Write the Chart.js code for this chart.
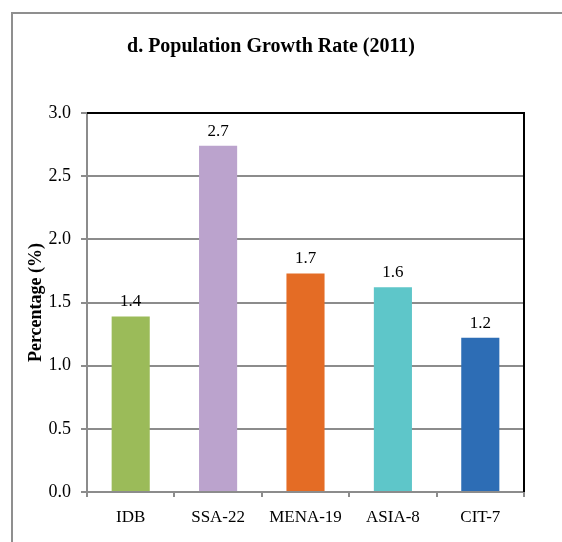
<!DOCTYPE html>
<html>
<head>
<meta charset="utf-8">
<script src="https://cdn.jsdelivr.net/npm/chart.js@4/dist/chart.umd.min.js"></script>
<style>
  html, body { margin: 0; padding: 0; background: #fff; }
  #wrap { width: 562px; height: 542px; }
</style>
</head>
<body>
<div id="wrap"><canvas id="chart-growth"></canvas></div>
<script>
// Dados
const regioes = ['IDB', 'SSA-22', 'MENA-19', 'ASIA-8', 'CIT-7'];
const taxaCrescimento = [1.39, 2.74, 1.73, 1.62, 1.22];
const coresBarras = ['#9BBB59', '#BBA3CD', '#E46C25', '#5EC6C9', '#2D6DB5'];
const ticksY = [0, 0.5, 1.0, 1.5, 2.0, 2.5, 3.0];

const CINZA = '#8c8c8c';
const SERIF = '"Liberation Serif", "Times New Roman", serif';

// Moldura externa, borda superior/direita e rótulos de valor
const molduraPlugin = {
    id: 'moldura',
    beforeDraw(chart) {
        const ctx = chart.ctx;
        ctx.save();
        ctx.fillStyle = '#fff';
        ctx.fillRect(0, 0, chart.width, chart.height);
        ctx.strokeStyle = '#8f8f8f';
        ctx.lineWidth = 2;
        ctx.strokeRect(12, 13, 700, 700);
        ctx.restore();
    },
    afterDatasetsDraw(chart) {
        const ctx = chart.ctx;
        const area = chart.chartArea;
        ctx.save();
        // rótulos acima das barras
        ctx.font = '17px ' + SERIF;
        ctx.fillStyle = '#000';
        ctx.textAlign = 'center';
        ctx.textBaseline = 'bottom';
        chart.getDatasetMeta(0).data.forEach((bar, i) => {
            ctx.fillText(taxaCrescimento[i].toFixed(1), bar.x, bar.y - 6);
        });
        // borda preta superior e direita
        ctx.strokeStyle = '#000';
        ctx.lineWidth = 2;
        ctx.beginPath();
        ctx.moveTo(area.left, area.top);
        ctx.lineTo(area.right, area.top);
        ctx.lineTo(area.right, area.bottom);
        ctx.stroke();
        ctx.restore();
    }
};

const ctx = document.getElementById('chart-growth').getContext('2d');
new Chart(ctx, {
    type: 'bar',
    data: {
        labels: regioes,
        datasets: [{
            data: taxaCrescimento,
            backgroundColor: coresBarras,
            borderWidth: 0,
            categoryPercentage: 1.0,
            barPercentage: 0.436
        }]
    },
    options: {
        responsive: true,
        maintainAspectRatio: false,
        animation: false,
        layout: { padding: { left: 18, right: 38, top: 0, bottom: 0 } },
        plugins: {
            legend: { display: false },
            tooltip: { enabled: false },
            title: {
                display: true,
                text: 'd. Population Growth Rate (2011)',
                color: '#000',
                font: { family: SERIF, size: 20, weight: 'bold' },
                padding: { top: 35, bottom: 54 }
            }
        },
        scales: {
            x: {
                afterFit: s => { s.height = 50; },
                grid: {
                    offset: true,
                    drawOnChartArea: false,
                    drawTicks: true,
                    tickLength: 5,
                    color: CINZA,
                    lineWidth: 2
                },
                border: { color: CINZA, width: 2 },
                ticks: {
                    color: '#000',
                    padding: 10,
                    font: { family: SERIF, size: 17 }
                }
            },
            y: {
                min: 0,
                max: 3,
                afterFit: s => { s.width = 69; },
                afterBuildTicks: s => { s.ticks = ticksY.map(v => ({ value: v })); },
                grid: {
                    color: c => (c.tick && c.tick.value === 3 ? '#000' : CINZA),
                    lineWidth: 2,
                    tickLength: 6,
                    tickColor: CINZA
                },
                border: { color: CINZA, width: 2 },
                ticks: {
                    color: '#000',
                    padding: 10,
                    font: { family: SERIF, size: 18 },
                    callback: v => Number(v).toFixed(1)
                },
                title: {
                    display: true,
                    text: 'Percentage (%)',
                    color: '#000',
                    font: { family: SERIF, size: 18, weight: 'bold' },
                    padding: { top: 8, bottom: 0 }
                }
            }
        }
    },
    plugins: [molduraPlugin]
});
</script>
</body>
</html>
